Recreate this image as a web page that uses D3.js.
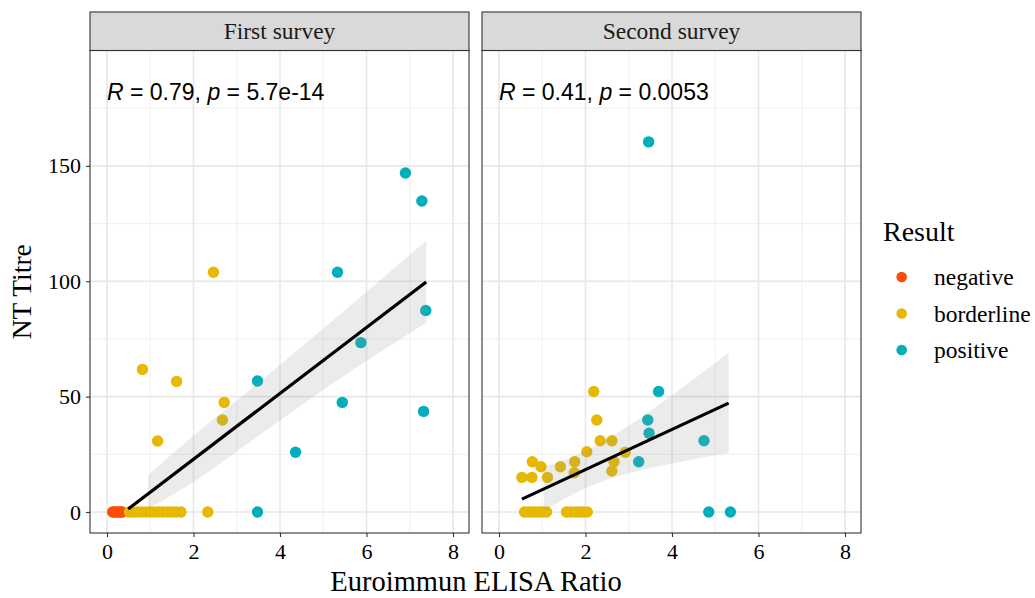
<!DOCTYPE html>
<html>
<head>
<meta charset="utf-8">
<script src="https://cdnjs.cloudflare.com/ajax/libs/d3/7.8.5/d3.min.js"></script>
<style>
  body { margin: 0; background: #fff; }
  text { font-family: "Liberation Serif", "Times New Roman", serif; }
</style>
</head>
<body>
<script>
var width = 1035, height = 598;

// data
var facets = ["First survey", "Second survey"];
var results = ["negative", "borderline", "positive"];
var colors = ["#FC4E07", "#E7B800", "#00AFBB"];

var firstX = [0.13, 0.18, 0.22, 0.27, 0.31, 0.35,
  0.52, 0.6, 0.7, 0.8, 0.9, 1.0, 1.1, 1.2, 1.3, 1.4, 1.5, 1.6, 1.71, 2.33,
  0.82, 1.61, 1.17, 2.46, 2.71, 2.67,
  3.48, 3.48, 4.36, 5.33, 5.44, 5.87, 6.90, 7.28, 7.37, 7.32];
var firstY = [0, 0, 0, 0, 0, 0,
  0, 0, 0, 0, 0, 0, 0, 0, 0, 0, 0, 0, 0, 0,
  61.8, 56.6, 30.8, 103.9, 47.5, 39.9,
  0, 56.8, 25.9, 103.9, 47.5, 73.4, 146.9, 134.8, 87.3, 43.6];
var firstRes = [0, 0, 0, 0, 0, 0,
  1, 1, 1, 1, 1, 1, 1, 1, 1, 1, 1, 1, 1, 1,
  1, 1, 1, 1, 1, 1,
  2, 2, 2, 2, 2, 2, 2, 2, 2, 2];

var secondX = [0.59, 0.68, 0.76, 0.85, 0.93, 1.01, 1.1, 1.56, 1.66, 1.76, 1.86, 1.95, 2.04,
  0.53, 0.76, 1.12, 0.77, 0.97, 1.42, 1.75, 1.74, 2.03, 2.19, 2.26, 2.34, 2.61, 2.66, 2.61, 2.92,
  3.23, 3.44, 3.47, 3.69, 4.74, 3.46, 4.85, 5.35];
var secondY = [0, 0, 0, 0, 0, 0, 0, 0, 0, 0, 0, 0, 0,
  15, 15, 15, 21.8, 19.6, 19.6, 21.8, 17, 26.1, 52.2, 39.9, 30.9, 30.9, 21.8, 17.8, 25.9,
  21.8, 39.9, 34.1, 52.2, 30.9, 160.4, 0, 0];
var secondRes = [1, 1, 1, 1, 1, 1, 1, 1, 1, 1, 1, 1, 1,
  1, 1, 1, 1, 1, 1, 1, 1, 1, 1, 1, 1, 1, 1, 1, 1,
  2, 2, 2, 2, 2, 2, 2, 2];

// fitted lines and confidence bands
var firstFitX = [0.49, 7.38];
var firstFitY = [1.3, 99.7];
var firstBandX = [0.95, 2, 3.5, 5.16, 7.38];
var firstBandLo = [1.5, 13, 33, 55, 82];
var firstBandHi = [16, 33, 56, 82, 117.5];

var secondFitX = [0.53, 5.31];
var secondFitY = [5.6, 47.2];
var secondBandX = [1.04, 2, 3, 4, 5.31];
var secondBandLo = [0.5, 10.4, 16.8, 21, 25.6];
var secondBandHi = [19.5, 26.4, 37.4, 50.6, 69];

var corR = ["0.79", "0.41"];
var corP = ["5.7e-14", "0.0053"];

var xTicks = [0, 2, 4, 6, 8];
var xMinor = [1, 3, 5, 7];
var yTicks = [0, 50, 100, 150];
var yMinor = [25, 75, 125, 175];

var panels = [
  {x: firstX, y: firstY, res: firstRes, fx: firstFitX, fy: firstFitY, bx: firstBandX, lo: firstBandLo, hi: firstBandHi},
  {x: secondX, y: secondY, res: secondRes, fx: secondFitX, fy: secondFitY, bx: secondBandX, lo: secondBandLo, hi: secondBandHi}
];

var svg = d3.select("body").append("svg").attr("width", width).attr("height", height);

var panelW = 379, panelTop = 50.5, panelBottom = 533, stripTop = 12;
var panelLeft = [90, 482];

var y = d3.scaleLinear().domain([-9.1, 200]).range([panelBottom, panelTop]);

panels.forEach(function (p, i) {
  var x = d3.scaleLinear().domain([-0.393, 8.37]).range([panelLeft[i], panelLeft[i] + panelW]);
  var g = svg.append("g");

  g.append("rect").attr("x", panelLeft[i]).attr("y", panelTop).attr("width", panelW)
    .attr("height", panelBottom - panelTop).attr("fill", "#fff");

  // grid
  g.selectAll(".xmin").data(xMinor).enter().append("line")
    .attr("x1", d => x(d)).attr("x2", d => x(d)).attr("y1", panelTop).attr("y2", panelBottom)
    .attr("stroke", "#ebebeb").attr("stroke-width", 0.8);
  g.selectAll(".ymin").data(yMinor).enter().append("line")
    .attr("x1", panelLeft[i]).attr("x2", panelLeft[i] + panelW).attr("y1", d => y(d)).attr("y2", d => y(d))
    .attr("stroke", "#ebebeb").attr("stroke-width", 0.8);
  g.selectAll(".xmaj").data(xTicks).enter().append("line")
    .attr("x1", d => x(d)).attr("x2", d => x(d)).attr("y1", panelTop).attr("y2", panelBottom)
    .attr("stroke", "#e8e8e8").attr("stroke-width", 1.6);
  g.selectAll(".ymaj").data(yTicks).enter().append("line")
    .attr("x1", panelLeft[i]).attr("x2", panelLeft[i] + panelW).attr("y1", d => y(d)).attr("y2", d => y(d))
    .attr("stroke", "#e8e8e8").attr("stroke-width", 1.6);

  // points
  g.selectAll("circle.pt").data(p.x).enter().append("circle")
    .attr("cx", d => x(d)).attr("cy", (d, j) => y(p.y[j])).attr("r", 5.7)
    .attr("fill", (d, j) => colors[p.res[j]]);

  // band over the points, then line
  var area = d3.area().curve(d3.curveMonotoneX)
    .x(d => x(d)).y0((d, j) => y(p.lo[j])).y1((d, j) => y(p.hi[j]));
  g.append("path").attr("d", area(p.bx)).attr("fill", "#999999").attr("fill-opacity", 0.2);
  g.append("path").attr("d", d3.line().x(d => x(d)).y((d, j) => y(p.fy[j]))(p.fx))
    .attr("stroke", "#000").attr("stroke-width", 3.2).attr("fill", "none");

  // annotation
  var t = g.append("text").attr("x", x(0)).attr("y", y(178.6))
    .style("font-family", "'Liberation Sans', Arial, sans-serif").style("font-size", "23px").attr("fill", "#000");
  t.append("tspan").style("font-style", "italic").text("R");
  t.append("tspan").text(" = " + corR[i] + ", ");
  t.append("tspan").style("font-style", "italic").text("p");
  t.append("tspan").text(" = " + corP[i]);

  // border
  g.append("rect").attr("x", panelLeft[i]).attr("y", panelTop).attr("width", panelW)
    .attr("height", panelBottom - panelTop).attr("fill", "none").attr("stroke", "#333").attr("stroke-width", 1.1);

  // strip
  g.append("rect").attr("x", panelLeft[i]).attr("y", stripTop).attr("width", panelW)
    .attr("height", panelTop - stripTop).attr("fill", "#d9d9d9").attr("stroke", "#333").attr("stroke-width", 1.1);
  g.append("text").attr("x", panelLeft[i] + panelW / 2).attr("y", (stripTop + panelTop) / 2)
    .attr("text-anchor", "middle").attr("dominant-baseline", "central")
    .style("font-size", "23.5px").attr("fill", "#1a1a1a").text(facets[i]);

  // x axis
  var xa = g.append("g").attr("transform", "translate(0," + panelBottom + ")")
    .call(d3.axisBottom(x).tickValues(xTicks).tickSize(4).tickPadding(6).tickFormat(d3.format("d")));
  xa.select(".domain").remove();
  xa.selectAll("line").attr("stroke", "#333").attr("stroke-width", 1.1);
  xa.selectAll("text").style("font-family", "'Liberation Serif', serif").style("font-size", "22px").attr("fill", "#000");

  if (i === 0) {
    var ya = g.append("g").attr("transform", "translate(" + panelLeft[i] + ",0)")
      .call(d3.axisLeft(y).tickValues(yTicks).tickSize(4).tickPadding(5));
    ya.select(".domain").remove();
    ya.selectAll("line").attr("stroke", "#333").attr("stroke-width", 1.1);
    ya.selectAll("text").style("font-family", "'Liberation Serif', serif").style("font-size", "22px").attr("fill", "#000");
  }
});

// axis titles
svg.append("text").attr("x", 476).attr("y", 591).attr("text-anchor", "middle")
  .style("font-size", "28.5px").text("Euroimmun ELISA Ratio");
svg.append("text").attr("transform", "translate(31," + ((panelTop + panelBottom) / 2) + ") rotate(-90)")
  .attr("text-anchor", "middle").style("font-size", "27.5px").text("NT Titre");

// legend
svg.append("text").attr("x", 883).attr("y", 241).style("font-size", "28px").text("Result");
var legY = d3.scalePoint().domain(results).range([277, 350]);
var leg = svg.selectAll(".leg").data(results).enter().append("g");
leg.append("circle").attr("cx", 901.7).attr("cy", d => legY(d)).attr("r", 5.3).attr("fill", (d, j) => colors[j]);
leg.append("text").attr("x", 934).attr("y", d => legY(d)).attr("dominant-baseline", "central")
  .style("font-size", "23.5px").text(d => d);
</script>
</body>
</html>
